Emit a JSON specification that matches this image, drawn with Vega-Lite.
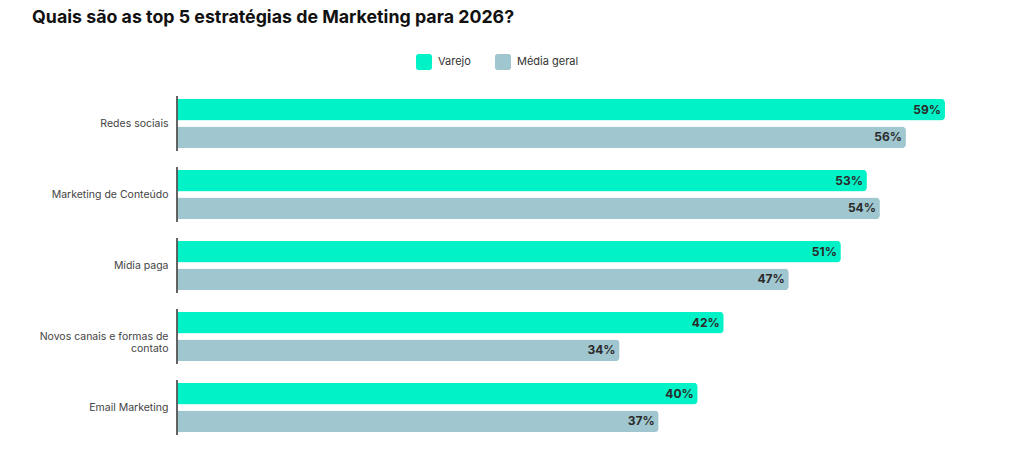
{
  "$schema": "https://vega.github.io/schema/vega-lite/v6.json",
  "autosize": {"type": "none"},
  "padding": {"left": 177, "top": 88, "right": 66, "bottom": 9},
  "width": 781,
  "height": 355,
  "background": "white",
  "view": {"stroke": null},
  "title": {
    "text": "Quais são as top 5 estratégias de Marketing para 2026?",
    "anchor": "start",
    "frame": "group",
    "dx": -145,
    "offset": 27,
    "font": "Inter",
    "fontSize": 17.8,
    "fontWeight": 700,
    "color": "#111111"
  },
  "data": {
    "values": [
      {"estrategia": "Redes sociais", "serie": "Varejo", "valor": 0.59},
      {"estrategia": "Redes sociais", "serie": "Média geral", "valor": 0.56},
      {"estrategia": "Marketing de Conteúdo", "serie": "Varejo", "valor": 0.53},
      {"estrategia": "Marketing de Conteúdo", "serie": "Média geral", "valor": 0.54},
      {"estrategia": "Mídia paga", "serie": "Varejo", "valor": 0.51},
      {"estrategia": "Mídia paga", "serie": "Média geral", "valor": 0.47},
      {"estrategia": "Novos canais e formas de contato", "serie": "Varejo", "valor": 0.42},
      {"estrategia": "Novos canais e formas de contato", "serie": "Média geral", "valor": 0.34},
      {"estrategia": "Email Marketing", "serie": "Varejo", "valor": 0.40},
      {"estrategia": "Email Marketing", "serie": "Média geral", "valor": 0.37}
    ]
  },
  "encoding": {
    "y": {
      "field": "estrategia",
      "type": "nominal",
      "sort": null,
      "title": null,
      "scale": {"paddingInner": 0.3, "paddingOuter": 0.15},
      "axis": {
        "domain": false,
        "ticks": false,
        "labelPadding": 9,
        "labelFont": "Inter",
        "labelFontSize": 10.5,
        "labelColor": "#444444",
        "labelLimit": 200,
        "labelExpr": "datum.label == 'Novos canais e formas de contato' ? ['Novos canais e formas de', 'contato'] : datum.label"
      }
    }
  },
  "layer": [
    {
      "mark": {"type": "bar", "cornerRadiusEnd": 4},
      "encoding": {
        "x": {
          "field": "valor",
          "type": "quantitative",
          "scale": {"domain": [0, 0.6]},
          "axis": null
        },
        "yOffset": {
          "field": "serie",
          "sort": ["Varejo", "Média geral"],
          "scale": {"paddingInner": 0.21}
        },
        "color": {
          "field": "serie",
          "type": "nominal",
          "title": null,
          "scale": {
            "domain": ["Varejo", "Média geral"],
            "range": ["#02F2C8", "#A0C6CF"]
          },
          "legend": {
            "orient": "none",
            "direction": "horizontal",
            "legendX": 239,
            "legendY": -34,
            "symbolType": "M-0.7,-1H0.7A0.3,0.3 0 0 1 1,-0.7V0.7A0.3,0.3 0 0 1 0.7,1H-0.7A0.3,0.3 0 0 1 -1,0.7V-0.7A0.3,0.3 0 0 1 -0.7,-1Z",
            "symbolSize": 256,
            "symbolStrokeWidth": 0,
            "symbolOpacity": 1,
            "labelFont": "Inter",
            "labelFontSize": 11,
            "labelColor": "#333333",
            "labelOffset": 6,
            "columnPadding": 24
          }
        }
      }
    },
    {
      "mark": {
        "type": "text",
        "align": "right",
        "baseline": "middle",
        "dx": -4,
        "font": "Inter",
        "fontSize": 12,
        "fontWeight": 700,
        "color": "#2b2b2b"
      },
      "encoding": {
        "x": {"field": "valor", "type": "quantitative"},
        "yOffset": {"field": "serie", "sort": ["Varejo", "Média geral"]},
        "text": {"field": "valor", "type": "quantitative", "format": ".0%"},
        "detail": {"field": "serie"}
      }
    },
    {
      "mark": {"type": "tick", "orient": "vertical", "size": 55, "thickness": 2, "color": "#555555"},
      "encoding": {
        "x": {"datum": 0, "type": "quantitative"}
      }
    }
  ]
}
